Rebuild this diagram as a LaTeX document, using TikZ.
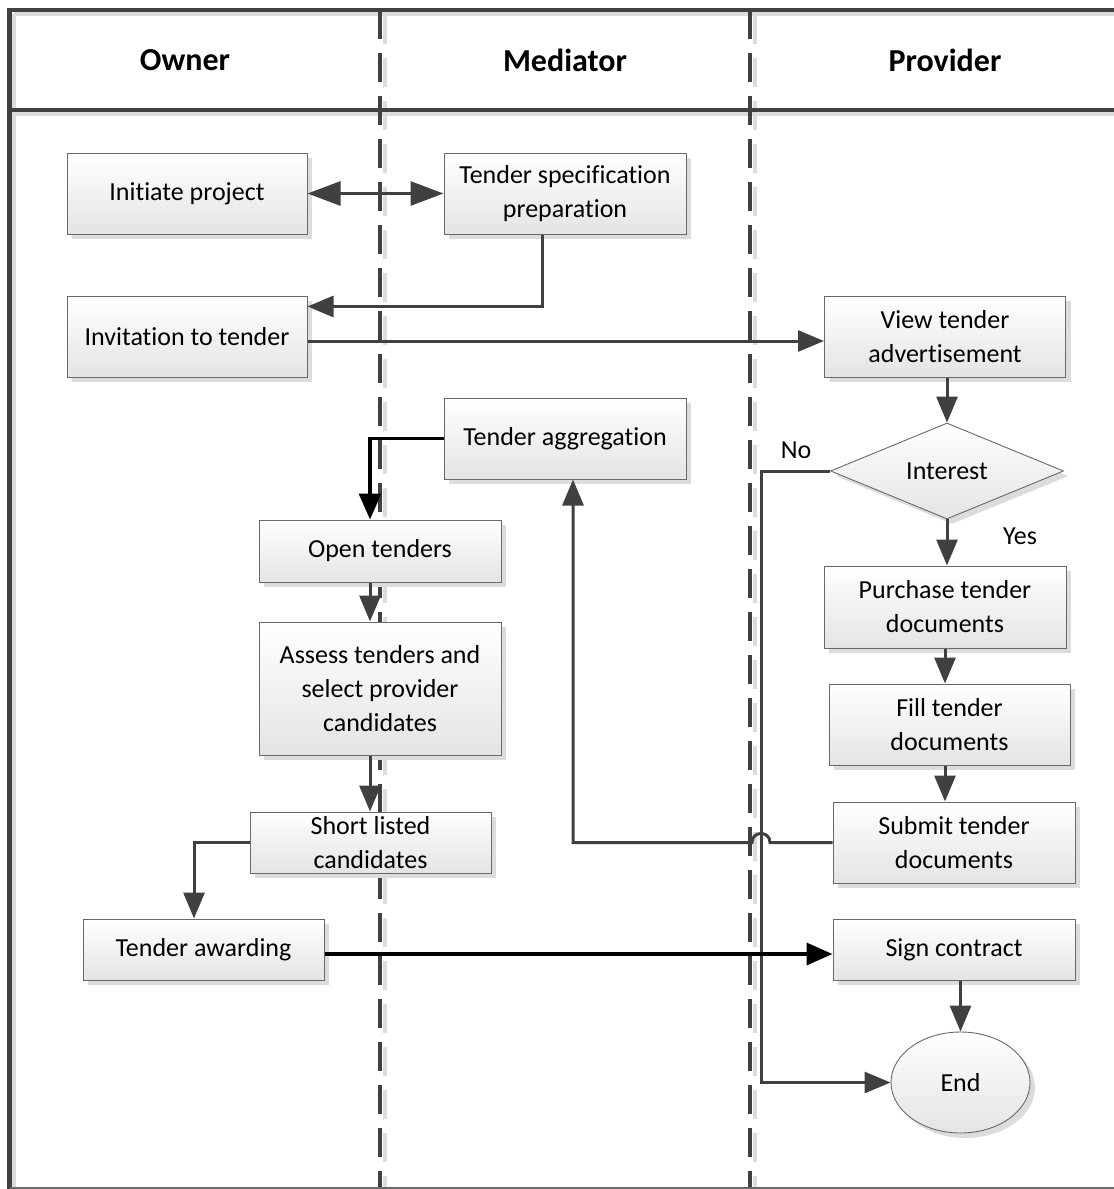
\documentclass[tikz,border=0pt]{standalone}
\usepackage{fontspec}
\setmainfont{Carlito}[Ligatures=NoCommon]
\usetikzlibrary{arrows.meta,shapes.geometric,shadows}

\definecolor{ink}{RGB}{64,64,64}
\definecolor{edge}{RGB}{105,105,105}
\definecolor{shade}{RGB}{228,228,228}
\definecolor{shadowgray}{RGB}{220,220,220}

\tikzset{
  every node/.style={text=black},
  bodyfont/.style={font=\fontsize{26}{34}\selectfont},
  headfont/.style={font=\fontsize{32}{38}\selectfont\bfseries},
  procbox/.style={rectangle, draw=edge, line width=1pt, top color=white,
    bottom color=shade, align=center, inner sep=0pt, bodyfont,
    drop shadow={shadow xshift=5pt, shadow yshift=-5pt, fill=shadowgray, opacity=1}},
  decision/.style={diamond, draw=edge, line width=0.9pt, top color=white,
    bottom color=shade, inner sep=0pt, bodyfont, aspect=2.4,
    drop shadow={shadow xshift=5pt, shadow yshift=-5pt, fill=shadowgray, opacity=1}},
  terminal/.style={ellipse, draw=edge, line width=0.9pt, top color=white,
    bottom color=shade, inner sep=0pt, bodyfont,
    drop shadow={shadow xshift=5pt, shadow yshift=-5pt, fill=shadowgray, opacity=1}},
  conn/.style={draw=ink, line width=3pt, -{Triangle[length=26pt,width=21pt]}},
  bold conn/.style={draw=black, line width=3.5pt, -{Triangle[length=26pt,width=22pt]}},
  frameline/.style={draw=ink, line width=4.5pt},
  frameshadow/.style={draw=shadowgray, line width=4pt},
  lane/.style={draw=ink, line width=4pt, dash pattern=on 29pt off 14pt},
  laneshadow/.style={draw=shadowgray, line width=3.5pt, dash pattern=on 29pt off 14pt},
}

\begin{document}
\begin{tikzpicture}[x=1pt, y=-1pt]
  \useasboundingbox (0,0) rectangle (1114,1189);

  % pool frame and lane separators
  \draw[frameshadow] (14,14) -- (1114,14);
  \draw[frameshadow] (14,114) -- (1114,114);
  \draw[frameshadow] (14,14) -- (14,1189);
  \draw[laneshadow] (385,15) -- (385,1189);
  \draw[laneshadow] (755,15) -- (755,1189);
  \draw[lane] (379.5,10) -- (379.5,1189);
  \draw[lane] (749.5,10) -- (749.5,1189);
  \draw[frameline] (9.5,10) -- (1114,10);
  \draw[frameline] (9.5,110) -- (1114,110);
  \draw[frameline] (9.5,8) -- (9.5,1189);
  \draw[draw=edge, line width=1.5pt] (9.5,1188) -- (1114,1188);

  % lane titles
  \node[headfont] (hOwner) at (185,60) {Owner};
  \node[headfont] (hMediator) at (565,60) {Mediator};
  \node[headfont] (hProvider) at (945,60) {Provider};

  % process steps
  \node[procbox, minimum width=240, minimum height=81] (init) at (187,193.5) {Initiate project};
  \node[procbox, minimum width=242, minimum height=81] (spec) at (565,193.5) {Tender specification\\preparation};
  \node[procbox, minimum width=240, minimum height=81] (invite) at (187,336.5) {Invitation to tender};
  \node[procbox, minimum width=241, minimum height=81] (view) at (945,336.5) {View tender\\advertisement};
  \node[procbox, minimum width=242, minimum height=81] (aggr) at (565,438.5) {Tender aggregation};
  \node[decision, minimum width=233, minimum height=96] (interest) at (947,471) {Interest};
  \node[procbox, minimum width=242, minimum height=62] (open) at (380,551) {Open tenders};
  \node[procbox, minimum width=242, minimum height=133] (assess) at (380,688.5) {Assess tenders and\\select provider\\candidates};
  \node[procbox, minimum width=241, minimum height=61] (short) at (370.5,842.5) {Short listed\\candidates};
  \node[procbox, minimum width=241, minimum height=61] (award) at (203.5,949.5) {Tender awarding};
  \node[procbox, minimum width=242, minimum height=82] (purchase) at (945,607) {Purchase tender\\documents};
  \node[procbox, minimum width=241, minimum height=81] (fill) at (949.5,724.5) {Fill tender\\documents};
  \node[procbox, minimum width=242, minimum height=81] (submit) at (954,842.5) {Submit tender\\documents};
  \node[procbox, minimum width=242, minimum height=61] (sign) at (954,949.5) {Sign contract};
  \node[terminal, minimum width=139, minimum height=101] (end) at (960.5,1082.5) {End};

  % branch labels
  \node[bodyfont] (lblNo) at (796,450) {No};
  \node[bodyfont] (lblYes) at (1020,536) {Yes};

  % helper points for the "No" route and the line hop
  \coordinate (nobend) at (761,1082.5);
  \coordinate (hopR) at (770,842.5);
  \coordinate (hopL) at (752,842.5);

  % connectors
  \draw[conn, {Triangle[length=33pt,width=24pt]}-{Triangle[length=33pt,width=24pt]}] (init.east) -- (spec.west);
  \draw[conn] ([xshift=-23pt]spec.south) |- ([yshift=30pt]invite.east);
  \draw[conn] ([yshift=-4.5pt]invite.east) -- ([yshift=-4.5pt]view.west);
  \draw[conn] (interest.north |- view.south) -- (interest.north);
  \draw[conn] (interest.south) -- (interest.south |- purchase.north);
  \draw[conn] (interest.west) -| (nobend) -- (end.west);
  \draw[conn] (purchase.south) -- (purchase.south |- fill.north);
  \draw[conn] (purchase.south |- fill.south) -- (purchase.south |- submit.north);
  \draw[conn] (submit.west) -- (hopR) .. controls ([yshift=12pt]hopR) and ([yshift=12pt]hopL) .. (hopL) -| ([xshift=8pt]aggr.south);
  \draw[bold conn] (aggr.west) -| ([xshift=-10pt]open.north);
  \draw[conn] ([xshift=-10pt]open.south) -- ([xshift=-10pt]assess.north);
  \draw[conn] ([xshift=-10pt]assess.south) -- ([xshift=-10pt]assess.south |- short.north);
  \draw[conn] (short.west) -| ([xshift=-9.5pt]award.north);
  \draw[bold conn] ([yshift=-4.5pt]award.east) -- ([yshift=-4.5pt]sign.west);
  \draw[conn] (end.north |- sign.south) -- (end.north);
\end{tikzpicture}
\end{document}
